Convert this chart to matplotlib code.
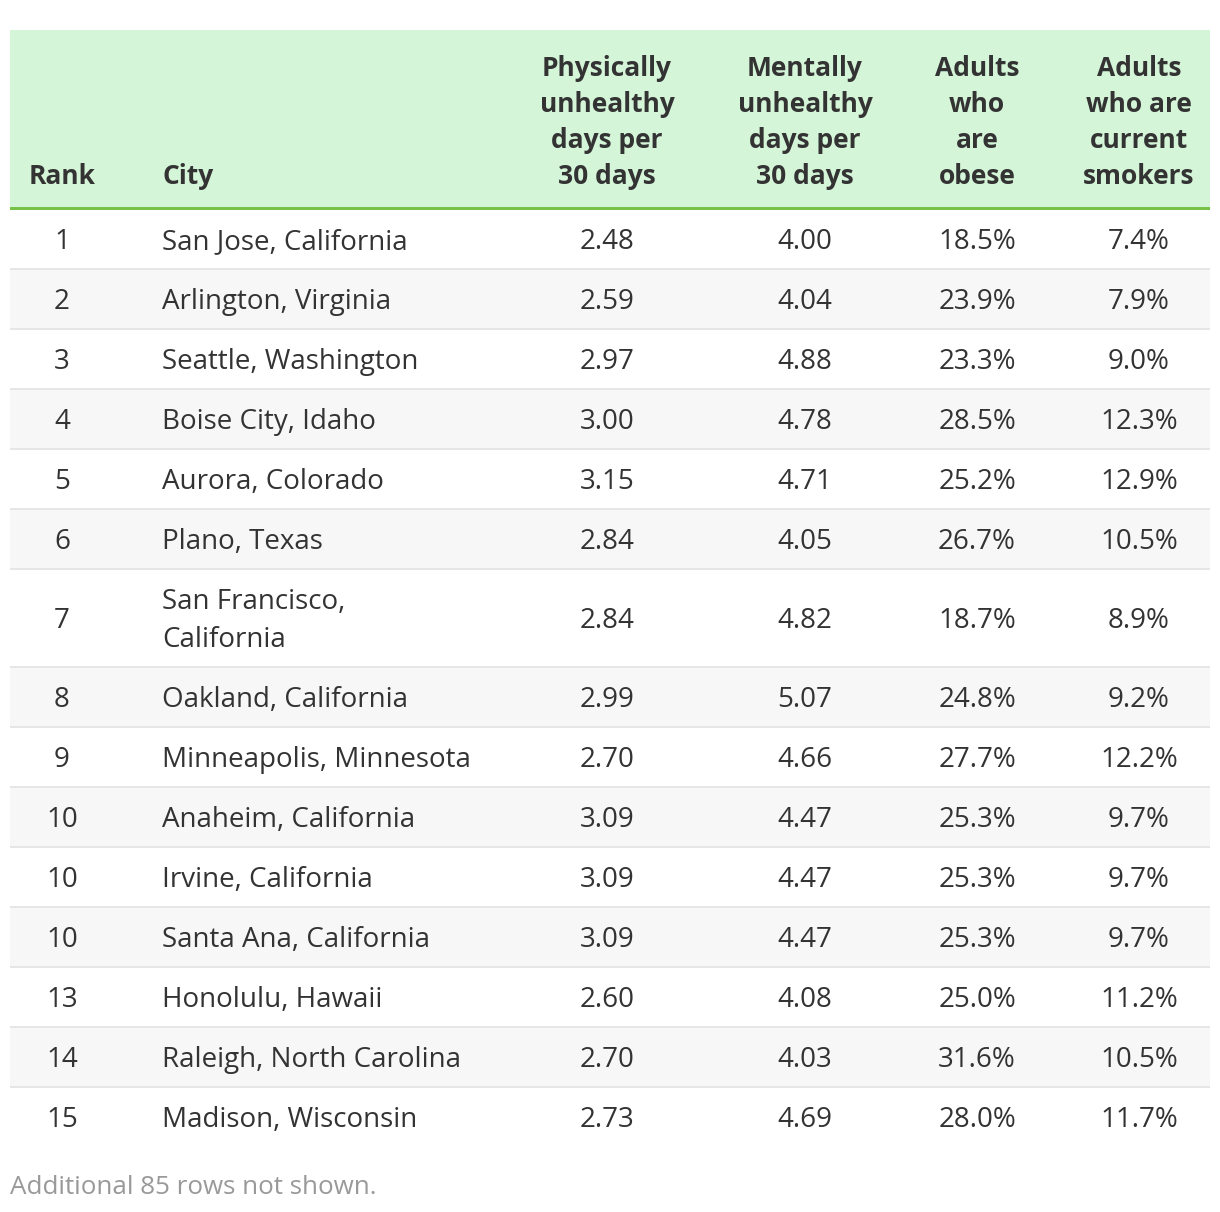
import matplotlib
matplotlib.use("Agg")
import matplotlib.pyplot as plt
from matplotlib.patches import Rectangle

ranks = [1, 2, 3, 4, 5, 6, 7, 8, 9, 10, 10, 10, 13, 14, 15]
cities = ["San Jose, California", "Arlington, Virginia", "Seattle, Washington",
          "Boise City, Idaho", "Aurora, Colorado", "Plano, Texas",
          "San Francisco, California", "Oakland, California",
          "Minneapolis, Minnesota", "Anaheim, California", "Irvine, California",
          "Santa Ana, California", "Honolulu, Hawaii", "Raleigh, North Carolina",
          "Madison, Wisconsin"]
phys_days = [2.48, 2.59, 2.97, 3.00, 3.15, 2.84, 2.84, 2.99, 2.70, 3.09, 3.09, 3.09, 2.60, 2.70, 2.73]
mental_days = [4.00, 4.04, 4.88, 4.78, 4.71, 4.05, 4.82, 5.07, 4.66, 4.47, 4.47, 4.47, 4.08, 4.03, 4.69]
obese_pct = [18.5, 23.9, 23.3, 28.5, 25.2, 26.7, 18.7, 24.8, 27.7, 25.3, 25.3, 25.3, 25.0, 31.6, 28.0]
smoker_pct = [7.4, 7.9, 9.0, 12.3, 12.9, 10.5, 8.9, 9.2, 12.2, 9.7, 9.7, 9.7, 11.2, 10.5, 11.7]
headers = [["Rank"], ["City"],
           ["Physically", "unhealthy", "days per", "30 days"],
           ["Mentally", "unhealthy", "days per", "30 days"],
           ["Adults", "who", "are", "obese"],
           ["Adults", "who are", "current", "smokers"]]
footer = "Additional 85 rows not shown."

FONT = ["Open Sans", "DejaVu Sans"]
W, H = 1220, 1212
fig = plt.figure(figsize=(W / 100, H / 100), dpi=100)
ax = fig.add_axes([0, 0, 1, 1])
ax.set_xlim(0, W)
ax.set_ylim(H, 0)
ax.axis("off")

left, right = 10, 1210
col_x = [62, 162, 607, 805, 977, 1139]
col_ha = ["center", "left", "center", "center", "center", "center"]
fs_head = 19
fs_body = 20
fs_foot = 18.7
txt_color = "#333333"

# header
head_top, head_bot = 30, 207
ax.add_patch(Rectangle((left, head_top), right - left, head_bot - head_top,
                       facecolor="#d5f5d8", edgecolor="none"))
ax.add_patch(Rectangle((left, head_bot), right - left, 3,
                       facecolor="#79c24a", edgecolor="none"))
for ci, lines in enumerate(headers):
    n = len(lines)
    for i, ln in enumerate(lines):
        y = 176 - 36 * (n - 1 - i)
        ax.text(col_x[ci], y, ln, ha=col_ha[ci], va="center", fontsize=fs_head,
                fontweight="bold", color=txt_color, family=FONT)

def wrap(s, maxlen=24):
    if len(s) <= maxlen:
        return [s]
    parts = s.split(" ")
    out, cur = [], ""
    for p in parts:
        cand = (cur + " " + p).strip()
        if len(cand) > maxlen and cur:
            out.append(cur)
            cur = p
        else:
            cur = cand
    out.append(cur)
    return out

y = head_bot + 3
for r in range(len(ranks)):
    city_lines = wrap(cities[r])
    h = 60 if len(city_lines) == 1 else 98
    bg = "#ffffff" if r % 2 == 0 else "#f7f7f7"
    ax.add_patch(Rectangle((left, y), right - left, h, facecolor=bg, edgecolor="none"))
    if r < len(ranks) - 1:
        ax.add_patch(Rectangle((left, y + h - 2), right - left, 2,
                               facecolor="#e6e6e6", edgecolor="none"))
    cy = y + h / 2 + 2
    vals = [str(ranks[r]), None, f"{phys_days[r]:.2f}", f"{mental_days[r]:.2f}",
            f"{obese_pct[r]:.1f}%", f"{smoker_pct[r]:.1f}%"]
    for ci, v in enumerate(vals):
        if ci == 1:
            n = len(city_lines)
            for i, ln in enumerate(city_lines):
                ly = cy + (i - (n - 1) / 2) * 38
                ax.text(col_x[ci], ly, ln, ha="left", va="center", fontsize=fs_body,
                        color=txt_color, family=FONT)
        else:
            ax.text(col_x[ci], cy, v, ha=col_ha[ci], va="center", fontsize=fs_body,
                    color=txt_color, family=FONT)
    y += h

ax.text(left, 1187, footer, ha="left", va="center", fontsize=fs_foot,
        color="#999999", family=FONT)

fig.savefig("out.png", dpi=100)
